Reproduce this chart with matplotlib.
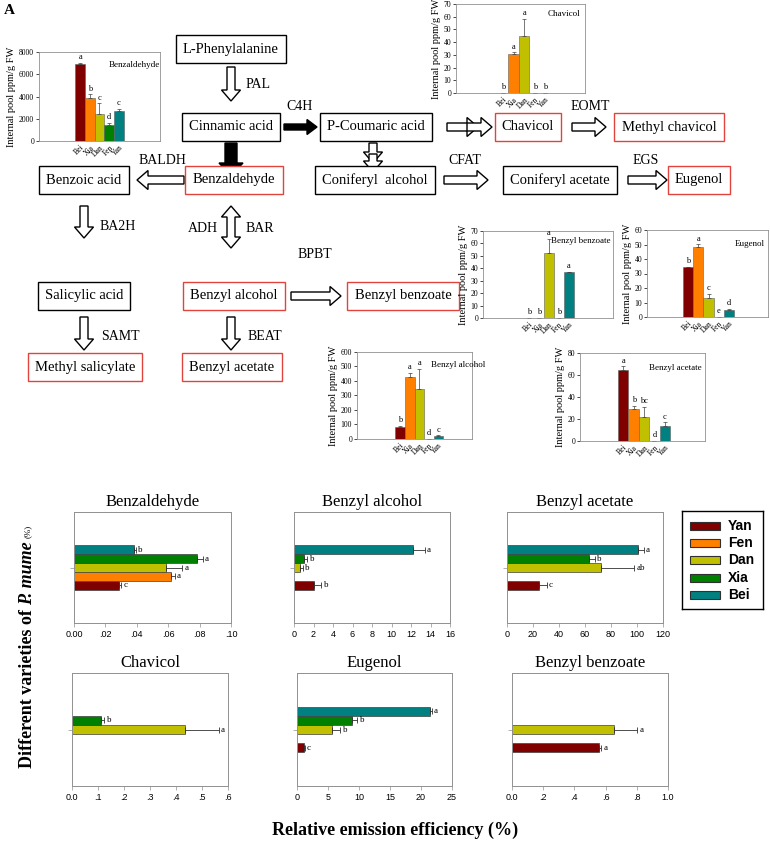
import numpy as np
import matplotlib
matplotlib.use('Agg')
import matplotlib.pyplot as plt
from matplotlib.patches import Polygon

W, H = 770, 842
SERIF = 'Liberation Serif'
SANS = 'Liberation Sans'

# ---- internal pool charts (top) ----
pool_varieties = ['Bei', 'Xia', 'Dan', 'Fen', 'Yan']
pool_colors = ['#800000', '#FF8000', '#C0C000', '#008000', '#008080']

benzaldehyde_pool = [6910, 3890, 2410, 1480, 2720]
benzaldehyde_pool_err = [90, 300, 970, 120, 180]
benzaldehyde_pool_sig = ['a', 'b', 'c', 'd', 'c']

chavicol_pool = [0, 30.6, 45.2, 0, 0]
chavicol_pool_err = [0, 1.3, 13.0, 0, 0]
chavicol_pool_sig = ['b', 'a', 'a', 'b', 'b']

benzoate_pool = [0, 0, 52.1, 0, 36.9]
benzoate_pool_err = [0, 0, 11.5, 0, 0.5]
benzoate_pool_sig = ['b', 'b', 'a', 'b', 'a']

eugenol_pool = [34.3, 48.5, 13.0, 0, 4.6]
eugenol_pool_err = [0.5, 1.6, 3.0, 0, 1.1]
eugenol_pool_sig = ['b', 'a', 'c', 'e', 'd']

alcohol_pool = [80, 429, 342, 0, 18]
alcohol_pool_err = [11, 27, 144, 0, 7]
alcohol_pool_sig = ['b', 'a', 'a', 'd', 'c']

acetate_pool = [64.9, 29.0, 22.0, 0, 14.0]
acetate_pool_err = [3.0, 2.7, 9.1, 0, 3.0]
acetate_pool_sig = ['a', 'b', 'bc', 'd', 'c']

# ---- relative emission efficiency charts (bottom) ----
varieties = ['Yan', 'Fen', 'Dan', 'Xia', 'Bei']
colors = ['#800000', '#FF8000', '#C0C000', '#008000', '#008080']
nan = np.nan

benzaldehyde_ree = [0.0289, 0.0616, 0.0584, 0.0786, 0.0384]
benzaldehyde_ree_err = [0.001, 0.0025, 0.0106, 0.0034, 0.0008]
benzaldehyde_ree_sig = ['c', 'a', 'a', 'a', 'b']

alcohol_ree = [2.05, nan, 0.65, 1.03, 12.16]
alcohol_ree_err = [0.75, nan, 0.27, 0.34, 1.25]
alcohol_ree_sig = ['b', '', 'b', 'b', 'a']

acetate_ree = [24.7, nan, 72.1, 63.1, 100.7]
acetate_ree_err = [5.7, nan, 25.8, 4.6, 4.3]
acetate_ree_sig = ['c', '', 'ab', 'b', 'a']

chavicol_ree = [nan, nan, 0.436, 0.111, nan]
chavicol_ree_err = [nan, nan, 0.128, 0.013, nan]
chavicol_ree_sig = ['', '', 'a', 'b', '']

eugenol_ree = [1.07, nan, 5.62, 8.83, 21.4]
eugenol_ree_err = [0.16, nan, 1.34, 0.91, 0.3]
eugenol_ree_sig = ['c', '', 'b', 'b', 'a']

benzoate_ree = [0.56, nan, 0.652, nan, nan]
benzoate_ree_err = [0.011, nan, 0.148, nan, nan]
benzoate_ree_sig = ['a', '', 'a', '', '']

fig = plt.figure(figsize=(W / 100, H / 100), dpi=100)


def px_axes(x0, y0, x1, y1):
    return fig.add_axes([x0 / W, 1 - y1 / H, (x1 - x0) / W, (y1 - y0) / H])


# ---------------- pathway diagram ----------------
ax0 = fig.add_axes([0, 0, 1, 1])
ax0.set_xlim(0, W)
ax0.set_ylim(H, 0)
ax0.axis('off')

boxes = [
    ('L-Phenylalanine', 231, 49, False),
    ('Cinnamic acid', 231, 127, False),
    ('P-Coumaric acid', 376, 127, False),
    ('Chavicol', 528, 127, True),
    ('Methyl chavicol', 669, 127, True),
    ('Benzoic acid', 84, 180, False),
    ('Benzaldehyde', 234, 180, True),
    ('Coniferyl  alcohol', 375, 180, False),
    ('Coniferyl acetate', 560, 180, False),
    ('Eugenol', 699, 180, True),
    ('Salicylic acid', 84, 296, False),
    ('Benzyl alcohol', 234, 296, True),
    ('Benzyl benzoate', 403, 296, True),
    ('Methyl salicylate', 85, 367, True),
    ('Benzyl acetate', 232, 367, True),
]
for name, cx, cy, red in boxes:
    ax0.text(cx, cy, name, ha='center', va='center', fontsize=10.5, family=SERIF,
             bbox=dict(boxstyle='square,pad=0.5', fc='white',
                       ec='#E0443C' if red else 'black', lw=1.0))

enzymes = [
    ('PAL', 246, 85, 'left'),
    ('C4H', 300, 106, 'center'),
    ('EOMT', 590, 106, 'center'),
    ('BALDH', 162, 160, 'center'),
    ('CFAT', 465, 160, 'center'),
    ('EGS', 646, 160, 'center'),
    ('BA2H', 100, 227, 'left'),
    ('ADH', 218, 228, 'right'),
    ('BAR', 246, 228, 'left'),
    ('BPBT', 315, 254, 'center'),
    ('SAMT', 101, 336, 'left'),
    ('BEAT', 248, 336, 'left'),
]
for name, x, y, ha in enzymes:
    ax0.text(x, y, name, ha=ha, va='center', fontsize=10, family=SERIF)


def arrow(x0, y0, x1, y1, w=4.0, hw=9.5, hl=11, fill='white', both=False):
    L = np.hypot(x1 - x0, y1 - y0)
    ux, uy = (x1 - x0) / L, (y1 - y0) / L
    px, py = -uy, ux
    if both:
        loc = [(0, 0), (hl, -hw), (hl, -w), (L - hl, -w), (L - hl, -hw), (L, 0),
               (L - hl, hw), (L - hl, w), (hl, w), (hl, hw)]
    else:
        loc = [(0, -w), (L - hl, -w), (L - hl, -hw), (L, 0), (L - hl, hw),
               (L - hl, w), (0, w)]
    pts = [(x0 + a * ux + b * px, y0 + a * uy + b * py) for a, b in loc]
    ax0.add_patch(Polygon(pts, closed=True, fc=fill, ec='black', lw=1.0))


arrow(231, 67, 231, 101)                       # PAL
arrow(284, 127, 317, 127, w=3, hw=7.5, hl=10, fill='black')  # C4H
arrow(447, 127, 478, 127)                      # double chevron
arrow(467, 127, 492, 127, w=4.0, hl=11)
arrow(572, 127, 606, 127)                      # EOMT
arrow(231, 143, 231, 176, w=6, hw=12, hl=13, fill='black')
arrow(373, 143, 373, 163)                      # to coniferyl alcohol
arrow(373, 154, 373, 172)
arrow(184, 180, 137, 180)                      # BALDH
arrow(444, 180, 488, 180)                      # CFAT
arrow(628, 180, 667, 180)                      # EGS
arrow(84, 206, 84, 238)                        # BA2H
arrow(231, 206, 231, 248, both=True)           # ADH / BAR
arrow(291, 296, 341, 296)                      # BPBT
arrow(84, 317, 84, 350)                        # SAMT
arrow(231, 317, 231, 350)                      # BEAT

fig.text(4 / W, 1 - 10 / H, 'A', fontsize=11, fontweight='bold', family=SERIF,
         va='center')


# ---------------- internal pool mini charts ----------------
def pool_chart(box, name, vals, errs, sigs, ymax, ystep, xlim, name_xy, name_ha='right'):
    ax = px_axes(*box)
    x = np.arange(len(vals))
    ax.bar(x, vals, width=1.0, color=pool_colors, edgecolor='#606060', lw=0.4)
    ax.errorbar(x, vals, yerr=[np.zeros(len(vals)), errs], fmt='none',
                ecolor='#404040', elinewidth=0.5, capsize=1.5, capthick=0.5)
    for xi, v, e, s in zip(x, vals, errs, sigs):
        ax.text(xi, v + e + ymax * 0.02, s, ha='center', va='bottom',
                fontsize=6, family=SERIF)
    ax.set_xlim(*xlim)
    ax.set_ylim(0, ymax)
    ax.set_yticks(np.arange(0, ymax + ystep / 2, ystep))
    ax.set_xticks(x)
    ax.set_xticklabels(pool_varieties, rotation=45, ha='right',
                       rotation_mode='anchor', fontsize=5.5, family=SERIF)
    for lab in ax.get_yticklabels():
        lab.set_family(SERIF)
    ax.tick_params(axis='y', labelsize=5.5, length=2, width=0.5, pad=1.5)
    ax.tick_params(axis='x', length=0, pad=2)
    ax.set_ylabel('Internal pool ppm/g FW', fontsize=7.5, family=SERIF, labelpad=2)
    for sp in ax.spines.values():
        sp.set_color('#909090')
        sp.set_linewidth(0.6)
    ax.text(name_xy[0], name_xy[1], name, transform=ax.transAxes, ha=name_ha,
            va='top', fontsize=6.5, family=SERIF)
    return ax


pool_chart((39, 52, 160, 141), 'Benzaldehyde', benzaldehyde_pool,
           benzaldehyde_pool_err, benzaldehyde_pool_sig, 8000, 2000,
           (-4.3, 8.3), (1.0, 0.9))
pool_chart((456, 4, 585, 93), 'Chavicol', chavicol_pool, chavicol_pool_err,
           chavicol_pool_sig, 70, 10, (-4.5, 7.8), (0.96, 0.93))
pool_chart((483, 231, 613, 318), 'Benzyl benzoate', benzoate_pool,
           benzoate_pool_err, benzoate_pool_sig, 70, 10, (-4.6, 8.4), (0.98, 0.93))
pool_chart((647, 230, 768, 317), 'Eugenol', eugenol_pool, eugenol_pool_err,
           eugenol_pool_sig, 60, 10, (-4.1, 7.9), (0.97, 0.88))
pool_chart((357, 352, 472, 439), 'Benzyl alcohol', alcohol_pool,
           alcohol_pool_err, alcohol_pool_sig, 600, 100, (-4.5, 7.5), (0.64, 0.9),
           name_ha='left')
pool_chart((580, 353, 705, 441), 'Benzyl acetate', acetate_pool,
           acetate_pool_err, acetate_pool_sig, 80, 20, (-4.15, 7.85), (0.97, 0.88))


# ---------------- relative emission efficiency charts ----------------
def ree_chart(box, title, vals, errs, sigs, xmax, xticks, xticklabels):
    ax = px_axes(*box)
    pos = [-0.32, -0.16, 0.0, 0.16, 0.32]
    for p, v, e, s, c in zip(pos, vals, errs, sigs, colors):
        if np.isnan(v):
            continue
        ax.barh(p, v, height=0.16, color=c, edgecolor='#404040', lw=0.5)
        ax.errorbar(v, p, xerr=[[0], [e]], fmt='none', ecolor='#303030',
                    elinewidth=0.6, capsize=2.2, capthick=0.6)
        ax.text(v + e + xmax * 0.015, p, s, ha='left', va='center',
                fontsize=6.5, family=SERIF)
    ax.set_xlim(0, xmax)
    ax.set_ylim(-1, 1)
    ax.set_yticks([0])
    ax.set_yticklabels([])
    ax.set_xticks(xticks)
    ax.set_xticklabels(xticklabels, fontsize=6.5, family=SANS)
    ax.tick_params(length=3, width=0.5, color='#909090', pad=2)
    for sp in ax.spines.values():
        sp.set_color('#909090')
        sp.set_linewidth(0.7)
    ax.set_title(title, fontsize=12, family=SERIF, pad=4)
    return ax


ree_chart((74, 512, 231, 623), 'Benzaldehyde', benzaldehyde_ree,
          benzaldehyde_ree_err, benzaldehyde_ree_sig, 0.10,
          [0, 0.02, 0.04, 0.06, 0.08, 0.10],
          ['0.00', '.02', '.04', '.06', '.08', '.10'])
ree_chart((294, 512, 450, 623), 'Benzyl alcohol', alcohol_ree, alcohol_ree_err,
          alcohol_ree_sig, 16, list(range(0, 17, 2)),
          [str(v) for v in range(0, 17, 2)])
ree_chart((507, 512, 663, 623), 'Benzyl acetate', acetate_ree, acetate_ree_err,
          acetate_ree_sig, 120, list(range(0, 121, 20)),
          [str(v) for v in range(0, 121, 20)])
ree_chart((72, 673, 228, 786), 'Chavicol', chavicol_ree, chavicol_ree_err,
          chavicol_ree_sig, 0.6, [0, 0.1, 0.2, 0.3, 0.4, 0.5, 0.6],
          ['0.0', '.1', '.2', '.3', '.4', '.5', '.6'])
ree_chart((297, 673, 452, 786), 'Eugenol', eugenol_ree, eugenol_ree_err,
          eugenol_ree_sig, 25, [0, 5, 10, 15, 20, 25],
          ['0', '5', '10', '15', '20', '25'])
ree_chart((512, 673, 668, 786), 'Benzyl benzoate', benzoate_ree,
          benzoate_ree_err, benzoate_ree_sig, 1.0, [0, 0.2, 0.4, 0.6, 0.8, 1.0],
          ['0.0', '.2', '.4', '.6', '.8', '1.0'])

# legend box
lg = px_axes(682, 511, 763, 609)
lg.set_xlim(0, 81)
lg.set_ylim(98, 0)
lg.set_xticks([])
lg.set_yticks([])
for sp in lg.spines.values():
    sp.set_color('black')
    sp.set_linewidth(1.0)
for i, (name, c) in enumerate(zip(varieties, colors)):
    yc = 15 + i * 17.2
    lg.add_patch(plt.Rectangle((8, yc - 4), 30, 8, fc=c, ec='#303030', lw=0.8))
    lg.text(46, yc, name, va='center', ha='left', fontsize=10,
            fontweight='bold', family=SANS)

# axis labels
fig.text(395 / W, 1 - 830 / H, 'Relative emission efficiency (%)', ha='center',
         va='center', fontsize=13, fontweight='bold', family=SERIF)

renderer = fig.canvas.get_renderer()
ypix = 768
pieces = [
    ('Different varieties of', dict(fontsize=13, fontweight='bold')),
    ('P. mume', dict(fontsize=13, fontweight='bold', style='italic')),
    ('(%)', dict(fontsize=6.5)),
]
for txt, kw in pieces:
    t = fig.text(28 / W, 1 - ypix / H, txt, rotation=90, ha='center',
                 va='bottom', family=SERIF, **kw)
    bb = t.get_window_extent(renderer)
    ypix -= bb.height + 4

fig.savefig('out.png', dpi=100)
